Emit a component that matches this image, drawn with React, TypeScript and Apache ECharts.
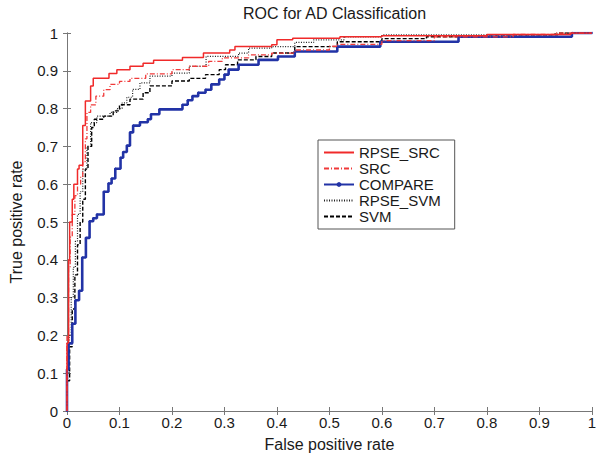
import React, { useEffect, useRef } from "react";
import * as echarts from "echarts";

const titleText = "ROC for AD Classification";
const xAxisName = "False positive rate";
const yAxisName = "True positive rate";
const seriesNames = ["RPSE_SRC", "SRC", "COMPARE", "RPSE_SVM", "SVM"];

// [false positive rate, true positive rate] at each step (step: 'end')
const rpseSrc: number[][] = [
  [0, 0], [0, 0.18], [0.003, 0.4], [0.005, 0.5], [0.01, 0.56], [0.013, 0.6], [0.02, 0.64],
  [0.023, 0.65], [0.03, 0.755], [0.035, 0.82], [0.045, 0.86], [0.05, 0.88], [0.08, 0.893],
  [0.095, 0.903], [0.12, 0.912], [0.145, 0.92], [0.165, 0.928], [0.22, 0.935], [0.26, 0.947],
  [0.31, 0.955], [0.32, 0.964], [0.39, 0.969], [0.4, 0.982], [0.43, 0.986], [0.52, 0.99],
  [0.6, 0.993], [0.8, 0.996], [0.96, 1], [1, 1],
];
const src: number[][] = [
  [0, 0], [0, 0.2], [0.003, 0.38], [0.006, 0.46], [0.01, 0.52], [0.015, 0.57], [0.02, 0.6],
  [0.026, 0.62], [0.03, 0.66], [0.035, 0.72], [0.038, 0.79], [0.045, 0.81], [0.055, 0.833],
  [0.07, 0.85], [0.082, 0.864], [0.1, 0.872], [0.12, 0.88], [0.15, 0.892], [0.2, 0.903],
  [0.233, 0.912], [0.27, 0.925], [0.296, 0.934], [0.346, 0.942], [0.39, 0.947], [0.434, 0.955],
  [0.5, 0.965], [0.515, 0.97], [0.6, 0.98], [0.7, 0.99], [0.85, 0.996], [0.93, 1], [1, 1],
];
const compare: number[][] = [
  [0, 0], [0, 0.11], [0.003, 0.179], [0.01, 0.231], [0.016, 0.293], [0.023, 0.318],
  [0.029, 0.406], [0.036, 0.458], [0.043, 0.502], [0.05, 0.51], [0.057, 0.52], [0.07, 0.58],
  [0.079, 0.602], [0.085, 0.615], [0.092, 0.641], [0.102, 0.67], [0.107, 0.685], [0.114, 0.702],
  [0.12, 0.737], [0.126, 0.755], [0.139, 0.764], [0.154, 0.772], [0.16, 0.785], [0.176, 0.798],
  [0.22, 0.81], [0.23, 0.822], [0.239, 0.833], [0.25, 0.842], [0.264, 0.85], [0.275, 0.864],
  [0.29, 0.877], [0.3, 0.89], [0.308, 0.903], [0.327, 0.916], [0.365, 0.929], [0.402, 0.938],
  [0.434, 0.951], [0.515, 0.964], [0.597, 0.977], [0.746, 0.99], [0.962, 1], [1, 1],
];
const rpseSvm: number[][] = [
  [0, 0], [0, 0.1], [0.004, 0.2], [0.008, 0.3], [0.012, 0.38], [0.016, 0.45], [0.02, 0.52],
  [0.025, 0.58], [0.03, 0.64], [0.038, 0.7], [0.045, 0.763], [0.057, 0.78], [0.082, 0.79],
  [0.095, 0.8], [0.105, 0.815], [0.114, 0.83], [0.125, 0.851], [0.139, 0.868], [0.158, 0.886],
  [0.2, 0.894], [0.233, 0.912], [0.265, 0.938], [0.327, 0.947], [0.346, 0.96], [0.39, 0.964],
  [0.434, 0.975], [0.47, 0.982], [0.528, 0.99], [0.6, 0.995], [0.93, 1], [1, 1],
];
const svm: number[][] = [
  [0, 0], [0, 0.08], [0.005, 0.17], [0.01, 0.27], [0.015, 0.36], [0.02, 0.44], [0.025, 0.5],
  [0.03, 0.56], [0.035, 0.64], [0.04, 0.7], [0.047, 0.75], [0.052, 0.772], [0.07, 0.78],
  [0.088, 0.794], [0.1, 0.81], [0.12, 0.825], [0.145, 0.842], [0.158, 0.86], [0.2, 0.873],
  [0.233, 0.88], [0.264, 0.89], [0.29, 0.903], [0.302, 0.916], [0.325, 0.929], [0.36, 0.938],
  [0.39, 0.947], [0.434, 0.964], [0.515, 0.977], [0.6, 0.985], [0.685, 0.99], [0.8, 0.995],
  [0.935, 1], [1, 1],
];

const FONT = "'Liberation Sans', Arial, Helvetica, sans-serif";
const AXIS_COLOR = "#777";
const TEXT_COLOR = "#1a1a1a";

export default function App() {
  const ref = useRef<HTMLDivElement>(null);
  useEffect(() => {
    if (!ref.current) return;
    const chart = echarts.init(ref.current, undefined, { renderer: "svg" });
    const axisCommon = {
      type: "value" as const,
      min: 0,
      max: 1,
      interval: 0.1,
      splitLine: { show: false },
      axisLine: { show: true, lineStyle: { color: AXIS_COLOR, width: 1 } },
      axisTick: { show: true, inside: true, length: 4, lineStyle: { color: AXIS_COLOR } },
    };
    chart.setOption({
      animation: false,
      backgroundColor: "#fff",
      textStyle: { fontFamily: FONT },
      title: {
        text: titleText,
        left: 243,
        top: 5,
        padding: 0,
        textStyle: { fontFamily: FONT, fontSize: 16, fontWeight: "normal", color: TEXT_COLOR },
      },
      grid: { left: 66, right: 2, top: 33, bottom: 42, containLabel: false },
      xAxis: [
        {
          ...axisCommon,
          position: "bottom",
          name: xAxisName,
          nameLocation: "middle",
          nameGap: 25,
          nameTextStyle: { fontFamily: FONT, fontSize: 16, color: TEXT_COLOR },
          axisLabel: { margin: 4, fontFamily: FONT, fontSize: 15, color: TEXT_COLOR },
        },
        { ...axisCommon, position: "top", axisLabel: { show: false } },
      ],
      yAxis: [
        {
          ...axisCommon,
          position: "left",
          name: yAxisName,
          nameLocation: "middle",
          nameGap: 43,
          nameTextStyle: { fontFamily: FONT, fontSize: 16, color: TEXT_COLOR },
          axisLabel: { margin: 9, fontFamily: FONT, fontSize: 15, color: TEXT_COLOR },
        },
        { ...axisCommon, position: "right", axisLabel: { show: false } },
      ],
      legend: {
        orient: "vertical",
        left: 318,
        top: 140,
        padding: [5, 14, 5, 5],
        itemWidth: 30,
        itemHeight: 6,
        itemGap: 1,
        backgroundColor: "#fff",
        borderColor: "#555",
        borderWidth: 1,
        borderRadius: 0,
        itemStyle: { opacity: 0 },
        textStyle: { fontFamily: FONT, fontSize: 15, color: TEXT_COLOR },
        data: [
          { name: seriesNames[0] },
          { name: seriesNames[1] },
          { name: seriesNames[2], itemStyle: { opacity: 1 } },
          { name: seriesNames[3] },
          { name: seriesNames[4] },
        ],
      },
      series: [
        {
          name: seriesNames[4],
          type: "line",
          step: "end",
          data: svm,
          symbol: "none",
          z: 2,
          lineStyle: { color: "#000", width: 1.4, type: [4, 2] },
          itemStyle: { color: "#000" },
        },
        {
          name: seriesNames[3],
          type: "line",
          step: "end",
          data: rpseSvm,
          symbol: "none",
          z: 2,
          lineStyle: { color: "#222", width: 1.2, type: [1, 1.5] },
          itemStyle: { color: "#222" },
        },
        {
          name: seriesNames[2],
          type: "line",
          step: "end",
          data: compare,
          symbol: "circle",
          symbolSize: 2,
          showSymbol: true,
          z: 3,
          lineStyle: { color: "#2233a6", width: 2.6 },
          itemStyle: { color: "#2233a6" },
        },
        {
          name: seriesNames[1],
          type: "line",
          step: "end",
          data: src,
          symbol: "none",
          z: 4,
          lineStyle: { color: "#f03a3a", width: 1.3, type: [5, 2, 1, 2] },
          itemStyle: { color: "#f03a3a" },
        },
        {
          name: seriesNames[0],
          type: "line",
          step: "end",
          data: rpseSrc,
          symbol: "none",
          z: 5,
          lineStyle: { color: "#f02a2a", width: 1.5 },
          itemStyle: { color: "#f02a2a" },
        },
      ],
    });
    return () => chart.dispose();
  }, []);
  return (
    <div
      ref={ref}
      style={{ position: "absolute", left: 0, top: 0, width: 599, height: 457, background: "#fff" }}
    />
  );
}
